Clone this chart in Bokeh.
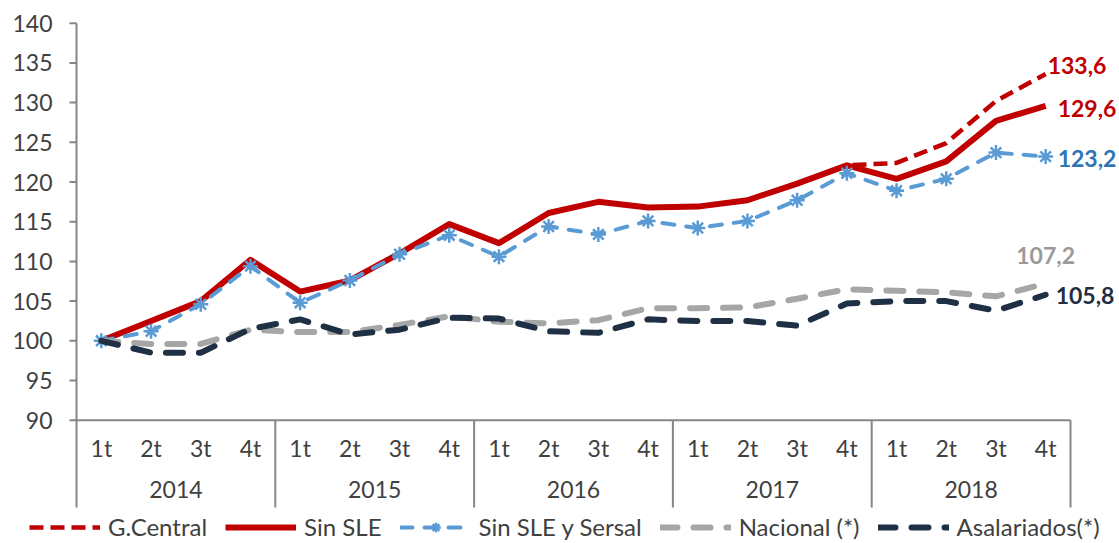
from bokeh.plotting import figure
from bokeh.models import ColumnDataSource, Legend, LegendItem, Range1d
from bokeh.core.properties import value
from bokeh.embed import file_html
from bokeh.resources import INLINE

years = ["2014", "2015", "2016", "2017", "2018"]
quarters = ["1t", "2t", "3t", "4t"]
y_ticks = [90, 95, 100, 105, 110, 115, 120, 125, 130, 135, 140]

g_central = [100.0, 102.5, 105.0, 110.2, 106.2, 107.6, 111.0, 114.7, 112.3, 116.1,
             117.5, 116.8, 116.9, 117.7, 119.8, 122.1, 122.4, 124.9, 130.2, 133.6]
sin_sle = [100.0, 102.5, 105.0, 110.2, 106.2, 107.6, 111.0, 114.7, 112.3, 116.1,
           117.5, 116.8, 116.9, 117.7, 119.8, 122.1, 120.4, 122.6, 127.7, 129.6]
sin_sle_sersal = [100.0, 101.2, 104.6, 109.4, 104.8, 107.6, 110.9, 113.3, 110.6, 114.4,
                  113.4, 115.1, 114.2, 115.1, 117.7, 121.1, 118.9, 120.4, 123.7, 123.2]
nacional = [100.0, 99.6, 99.6, 101.4, 101.1, 101.1, 102.0, 103.1, 102.4, 102.2,
            102.6, 104.1, 104.1, 104.2, 105.3, 106.5, 106.3, 106.1, 105.6, 107.2]
asalariados = [100.0, 98.5, 98.5, 101.5, 102.7, 100.8, 101.4, 102.9, 102.8, 101.2,
               101.0, 102.7, 102.5, 102.5, 101.9, 104.7, 105.0, 105.0, 103.8, 105.8]

FONT = "Lato"
TXT = "#404040"
AX = "#868686"
RED = "#C00000"
BLUE = "#5B9BD5"
GRAY = "#A6A6A6"
NAVY = "#1F3045"

n = len(years) * len(quarters)
xs = list(range(n))

# layout (pixels -> data scale)
PX_PER_X = 49.7
PX_PER_Y = 7.94
W, H = 1119, 541
AXIS_PX = 76.0          # pixel position of the value axis
TOP_PX = 22.7           # pixel position of the top tick (140)
x_lo = -0.5 - AXIS_PX / PX_PER_X
x_hi = -0.5 + (W - AXIS_PX) / PX_PER_X
y_top = y_ticks[-1] + TOP_PX / PX_PER_Y
y_bot = y_top - H / PX_PER_Y
y_min = y_ticks[0]

p = figure(width=W, height=H, output_backend="svg", toolbar_location=None,
           x_range=Range1d(x_lo, x_hi), y_range=Range1d(y_bot, y_top),
           x_axis_location=None, y_axis_location=None,
           min_border=0)
p.outline_line_color = None
p.grid.visible = False
p.background_fill_color = "white"

# value axis (line, ticks, labels)
ax_x = -0.5
tick_len = 7 / PX_PER_X
p.segment(x0=[ax_x], y0=[79.0], x1=[ax_x], y1=[y_ticks[-1]], line_color=AX, line_width=2)
p.segment(x0=[ax_x - tick_len] * len(y_ticks), y0=y_ticks, x1=[ax_x] * len(y_ticks), y1=y_ticks,
          line_color=AX, line_width=2)
p.text(x=[ax_x] * len(y_ticks), y=y_ticks, text=[str(t) for t in y_ticks],
       text_font=value(FONT), text_font_size="23px", text_color=TXT,
       text_align="right", text_baseline="middle", x_offset=-24)

# category axis
sep_x = [4 * k - 0.5 for k in range(len(years) + 1)]
p.segment(x0=[ax_x], y0=[y_min], x1=[sep_x[-1]], y1=[y_min], line_color=AX, line_width=2)
p.segment(x0=sep_x[1:], y0=[y_min] * len(years), x1=sep_x[1:], y1=[79.0] * len(years),
          line_color=AX, line_width=2)
q_src = ColumnDataSource(dict(x=xs, y=[86.5] * n, t=quarters * len(years)))
p.text(x="x", y="y", text="t", source=q_src, text_font=value(FONT),
       text_font_size="23px", text_color=TXT, text_align="center", text_baseline="middle")
y_src = ColumnDataSource(dict(x=[4 * k + 1.5 for k in range(len(years))],
                              y=[81.3] * len(years), t=years))
p.text(x="x", y="y", text="t", source=y_src, text_font=value(FONT),
       text_font_size="23px", text_color=TXT, text_align="center", text_baseline="middle")

# series
r_gc = p.line(xs, g_central, line_color=RED, line_width=4.5, line_dash="14 7")
r_sle = p.line(xs, sin_sle, line_color=RED, line_width=6, line_join="round")
r_ss = p.line(xs, sin_sle_sersal, line_color=BLUE, line_width=4, line_dash="12 12",
              line_cap="round")
r_ssm = p.scatter(xs, sin_sle_sersal, marker="asterisk", size=15, line_color=BLUE, line_width=2.5)
r_nac = p.line(xs, nacional, line_color=GRAY, line_width=6, line_dash="17 16", line_cap="round")
r_as = p.line(xs, asalariados, line_color=NAVY, line_width=6, line_dash="17 16", line_cap="round")

# end labels
def fmt(v):
    return f"{v:.1f}".replace(".", ",")

last = n - 1
lab_specs = [
    (g_central, RED, "left", 2, -9),
    (sin_sle, RED, "left", 12, 3),
    (sin_sle_sersal, "#2E75B6", "left", 12, 2),
    (nacional, "#9A9A9A", "center", 0, -28),
    (asalariados, NAVY, "left", 10, 1),
]
for series, col, align, dx, dy in lab_specs:
    p.text(x=[last], y=[series[last]], text=[fmt(series[last])], text_font=value(FONT),
           text_font_size="23px", text_font_style="bold", text_color=col,
           text_align=align, text_baseline="middle", x_offset=dx, y_offset=dy)

legend = Legend(items=[
    LegendItem(label="G.Central", renderers=[r_gc]),
    LegendItem(label="Sin SLE", renderers=[r_sle]),
    LegendItem(label="Sin SLE y Sersal", renderers=[r_ss, r_ssm]),
    LegendItem(label="Nacional (*)", renderers=[r_nac]),
    LegendItem(label="Asalariados(*)", renderers=[r_as]),
], orientation="horizontal", location=(29, 0), padding=0, margin=0, spacing=18,
    label_standoff=8, glyph_width=71, glyph_height=24, label_height=24,
    label_text_font=FONT, label_text_font_size="24px", label_text_color=TXT,
    border_line_color=None, background_fill_alpha=0)
p.add_layout(legend)

open("out.html", "w").write(file_html(p, INLINE))
